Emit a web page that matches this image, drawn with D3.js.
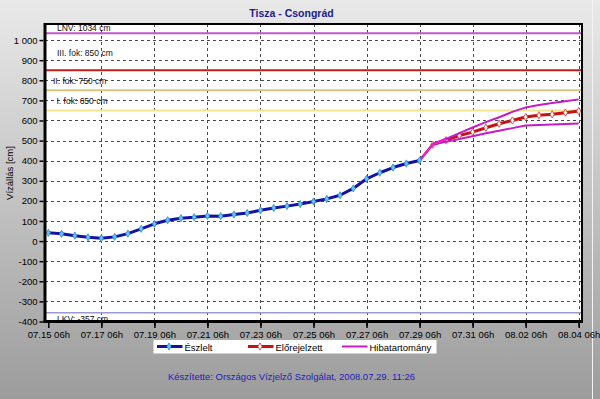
<!DOCTYPE html>
<html><head><meta charset="utf-8">
<script src="https://cdn.jsdelivr.net/npm/d3@7"></script>
<style>html,body{margin:0;padding:0;overflow:hidden}svg{display:block}text{font-family:"Liberation Sans",Arial,sans-serif}</style>
</head><body>
<script>
// ---- data ----
const titleText = "Tisza - Csongrád";
const yAxisLabel = "Vízállás [cm]";
const footerText = "Készítette: Országos Vízjelző Szolgálat, 2008.07.29. 11:26";
const observedStart = "2008-07-15T06:00Z";
const observedValues = [41,36,27,19,14,21,37,61,86,104,114,119,125,124,132,140,153,165,174,184,197,210,228,262,310,340,366,386,401];
const forecastStart = "2008-07-29T18:00Z";
const forecastValues = [480,502,525,542,564,584,600,617,626,631,639,647];
const bandStart = "2008-07-29T06:00Z";
const bandUpper = [401,482,508,537,565,592,616,643,665,677,687,696,705];
const bandLower = [401,480,494,508,522,536,549,562,575,578,580,583,585];
const thresholdNames = ["LNV: 1034 cm","III. fok: 850 cm","II. fok: 750 cm","I. fok: 650 cm","LKV: -357 cm"];
const thresholdValues = [1034,850,750,650,-357];
const yTicks = [-400,-300,-200,-100,0,100,200,300,400,500,600,700,800,900,1000];
const xTickLabels = ["07.15 06h","07.17 06h","07.19 06h","07.21 06h","07.23 06h","07.25 06h","07.27 06h","07.29 06h","07.31 06h","08.02 06h","08.04 06h"];
const legendNames = ["Észlelt","Előrejelzett","Hibatartomány"];

// ---- layout ----
const W=600,H=399;
const L=45,R=582,T=24,B=321.5;
const H12=12*3600e3;
const series=(start,vals)=>vals.map((v,i)=>({t:new Date(+new Date(start)+i*H12),v}));
const obs=series(observedStart,observedValues);
const fc=series(forecastStart,forecastValues);
const up=series(bandStart,bandUpper);
const lo=series(bandStart,bandLower);
const parseTick=s=>{const [md,h]=s.split(" ");const [m,d]=md.split(".");return new Date(Date.UTC(2008,+m-1,+d,parseInt(h)));};
const xTickDates=xTickLabels.map(parseTick);

const x=d3.scaleUtc().domain([new Date("2008-07-15T03:00Z"),new Date("2008-08-04T09:00Z")]).range([L,R]);
const y=d3.scaleLinear().domain([-400,1080]).range([B,T]);

const svg=d3.select("body").append("svg").attr("width",W).attr("height",H);
const defs=svg.append("defs");
const g=defs.append("linearGradient").attr("id","bg").attr("x1",0).attr("y1",0).attr("x2",0).attr("y2",1);
g.append("stop").attr("offset","0%").attr("stop-color","#e9e9e9");
g.append("stop").attr("offset","100%").attr("stop-color","#9c9c9c");
svg.append("rect").attr("width",W).attr("height",H).attr("fill","url(#bg)");
svg.append("line").attr("x1",592.5).attr("x2",592.5).attr("y1",0).attr("y2",H).attr("stroke","#f4f4f4").attr("stroke-width",1);

svg.append("rect").attr("x",L).attr("y",T).attr("width",R-L).attr("height",B-T).attr("fill","#fff");
defs.append("clipPath").attr("id","clip").append("rect").attr("x",L).attr("y",T).attr("width",R-L).attr("height",B-T);

// grid
const grid=svg.append("g").attr("stroke","#4a4a4a").attr("stroke-width",1).attr("stroke-dasharray","3,3");
grid.selectAll(".gy").data(yTicks.filter(v=>v>-400)).join("line")
  .attr("x1",L).attr("x2",R).attr("y1",d=>Math.round(y(d))+0.5).attr("y2",d=>Math.round(y(d))+0.5);
grid.selectAll(".gx").data(xTickDates.slice(1)).join("line")
  .attr("y1",T).attr("y2",B).attr("x1",d=>Math.round(x(d))+0.5).attr("x2",d=>Math.round(x(d))+0.5);

// thresholds
const thrColors=["#c058c8","#c41c1c","#dcc47a","#f2e68c","#9a9ad0"];
const thrWidths=[2,2,2,2,1.5];
const thrG=svg.append("g");
thrG.selectAll("line").data(thresholdValues).join("line")
  .attr("x1",L+1).attr("x2",R-1).attr("y1",d=>y(d)).attr("y2",d=>y(d))
  .attr("stroke",(d,i)=>thrColors[i]).attr("stroke-width",(d,i)=>thrWidths[i]);
const labOff=[-2,-14,-6,-6,9.5];
const labX=[57,57,53,56.5,57];
thrG.selectAll("text").data(thresholdValues).join("text")
  .attr("x",(d,i)=>labX[i]).attr("y",(d,i)=>y(d)+labOff[i])
  .attr("font-size","8.5px").attr("fill","#111").text((d,i)=>thresholdNames[i]);

// lines
const line=d3.line().x(d=>x(d.t)).y(d=>y(d.v));
const plot=svg.append("g").attr("clip-path","url(#clip)");
plot.append("path").datum(fc).attr("d",line).attr("fill","none").attr("stroke","#cc1010").attr("stroke-width",3).attr("stroke-linejoin","round");
const diamond=d3.symbol().type(d3.symbolDiamond).size(15);
plot.selectAll(".fm").data(fc).join("path").attr("d",diamond)
  .attr("transform",d=>`translate(${x(d.t)},${y(d.v)})`).attr("fill","#fff").attr("stroke","#d83030").attr("stroke-width",0.8);
[up,lo].forEach(s=>plot.append("path").datum(s).attr("d",line).attr("fill","none").attr("stroke","#c41cc8").attr("stroke-width",2));
plot.append("path").datum(up.slice(0,3)).attr("d",line).attr("fill","none").attr("stroke","#e820c0").attr("stroke-width",2.5);
plot.append("path").datum(obs).attr("d",line).attr("fill","none").attr("stroke","#1212a4").attr("stroke-width",3).attr("stroke-linejoin","round");
plot.selectAll(".om").data(obs).join("path").attr("d",diamond)
  .attr("transform",d=>`translate(${x(d.t)},${y(d.v)})`).attr("fill","#5ccaf2").attr("stroke","#3a80d8").attr("stroke-width",0.8);

// frame & axes
svg.append("rect").attr("x",L).attr("y",T).attr("width",R-L).attr("height",B-T).attr("fill","none").attr("stroke","#000").attr("stroke-width",2);
svg.append("line").attr("x1",L).attr("x2",L).attr("y1",T-1).attr("y2",B+1.5).attr("stroke","#000").attr("stroke-width",3);
svg.append("line").attr("x1",L-1.5).attr("x2",R+1).attr("y1",B).attr("y2",B).attr("stroke","#000").attr("stroke-width",3);

const ya=svg.append("g").attr("transform",`translate(${L-1.5},0)`)
  .call(d3.axisLeft(y).tickValues(yTicks).tickSize(4).tickPadding(2).tickFormat(d=>d3.format(",")(d).replace(/,/g," ").replace("−","-")));
ya.select(".domain").remove();
ya.selectAll("line").attr("stroke","#000").attr("stroke-width",1.5);
ya.selectAll("text").attr("font-size","9.5px").attr("fill","#000").attr("font-family","Liberation Sans, Arial, sans-serif");

const minorDates=d3.utcDay.range(new Date("2008-07-16T06:00Z"),new Date("2008-08-04T07:00Z"),2).map(d=>new Date(+d+6*3600e3));
const xm=svg.append("g").attr("transform",`translate(0,${B+1.5})`)
  .call(d3.axisBottom(x).tickValues(minorDates).tickSize(3).tickFormat(""));
xm.select(".domain").remove();
xm.selectAll("line").attr("stroke","#000").attr("stroke-width",1.5);
const xa=svg.append("g").attr("transform",`translate(0,${B+1.5})`)
  .call(d3.axisBottom(x).tickValues(xTickDates).tickSize(5).tickPadding(3).tickFormat((d,i)=>xTickLabels[i]));
xa.select(".domain").remove();
xa.selectAll("line").attr("stroke","#000").attr("stroke-width",1.5);
xa.selectAll("text").attr("font-size","9.5px").attr("fill","#000").attr("font-family","Liberation Sans, Arial, sans-serif");

// title, labels
svg.append("text").attr("x",291.5).attr("y",16.5).attr("text-anchor","middle").attr("font-size","10.5px").attr("font-weight","bold").attr("fill","#1c1c90").text(titleText);
svg.append("text").attr("transform","translate(12.5,173) rotate(-90)").attr("text-anchor","middle").attr("font-size","9.5px").attr("fill","#000").text(yAxisLabel);
svg.append("text").attr("x",291.5).attr("y",380).attr("text-anchor","middle").attr("font-size","9.5px").attr("fill","#1c1cc0").text(footerText);

// legend
const lg=svg.append("g");
lg.append("rect").attr("x",153.5).attr("y",340).attr("width",283).attr("height",13.5).attr("fill","#fff");
const legX=[157,248,342];
const legCol=["#1212a4","#cc1010","#c41cc8"];
const legFill=["#5ccaf2","#fff",null];
const legStroke=["#3a80d8","#d83030",null];
legendNames.forEach((n,i)=>{
  lg.append("line").attr("x1",legX[i]).attr("x2",legX[i]+25.5).attr("y1",346.5).attr("y2",346.5).attr("stroke",legCol[i]).attr("stroke-width",i<2?3:2);
  if(legFill[i]) lg.append("path").attr("d",diamond).attr("transform",`translate(${legX[i]+12},346.5)`).attr("fill",legFill[i]).attr("stroke",legStroke[i]).attr("stroke-width",0.8);
  lg.append("text").attr("x",legX[i]+27.5).attr("y",350.5).attr("font-size","9.5px").attr("fill","#000").text(n);
});
</script>
</body></html>
